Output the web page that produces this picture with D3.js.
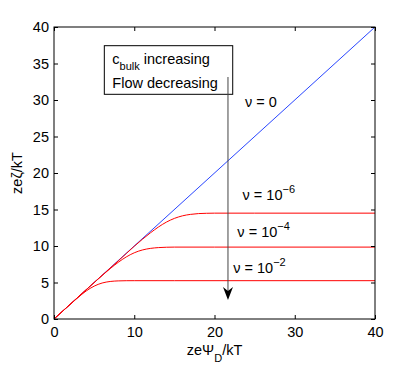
<!DOCTYPE html>
<html>
<head>
<meta charset="utf-8">
<script src="https://cdn.jsdelivr.net/npm/d3@7"></script>
<style>
  html, body { margin: 0; padding: 0; background: #fff; }
  svg { display: block; font-family: "Liberation Sans", Arial, Helvetica, sans-serif; }
</style>
</head>
<body>
<svg id="chart" width="415" height="366"></svg>
<script>
// ---- data ----
const xTicks = [0, 10, 20, 30, 40];
const yTicks = [0, 5, 10, 15, 20, 25, 30, 35, 40];

// nu = 0 : straight line
const nu0X = [0, 40];
const nu0Y = [0, 40];

// nu = 1e-6
const nu6X = [0, 4, 8, 10, 12, 13, 14, 15, 16, 17, 18, 19, 20, 25, 40];
const nu6Y = [0, 4, 7.95, 9.96, 11.79, 12.59, 13.27, 13.78, 14.13, 14.33, 14.44, 14.48, 14.5, 14.5, 14.5];

// nu = 1e-4
const nu4X = [0, 4, 6, 7, 8, 9, 10, 11, 12, 13, 14, 15, 20, 40];
const nu4Y = [0, 4.0, 5.97, 6.9, 7.76, 8.5, 9.07, 9.45, 9.67, 9.78, 9.83, 9.85, 9.85, 9.85];

// nu = 1e-2
const nu2X = [0, 1, 2, 3, 4, 5, 6, 7, 8, 9, 10, 15, 40];
const nu2Y = [0, 1.0, 1.99, 2.95, 3.83, 4.5, 4.93, 5.14, 5.22, 5.245, 5.25, 5.25, 5.25];

// ---- layout ----
const W = 415, H = 366;
const m = { left: 54, top: 27, right: 40, bottom: 47 };
const pw = W - m.left - m.right;   // 321
const ph = H - m.top - m.bottom;   // 292

const svg = d3.select("#chart");
const g = svg.append("g").attr("transform", `translate(${m.left},${m.top})`);

const x = d3.scaleLinear().domain([0, 40]).range([0, pw]);
const y = d3.scaleLinear().domain([0, 40]).range([ph, 0]);

const FS = 14.5;

// ---- lines ----
const line = d3.line().x(d => x(d[0])).y(d => y(d[1])).curve(d3.curveMonotoneX);
const zip = (a, b) => a.map((v, i) => [v, b[i]]);

g.append("path").datum(zip(nu0X, nu0Y)).attr("d", line)
  .attr("fill", "none").attr("stroke", "#1030ff").attr("stroke-width", 0.9);

[[nu6X, nu6Y], [nu4X, nu4Y], [nu2X, nu2Y]].forEach(([xs, ys]) => {
  g.append("path").datum(zip(xs, ys)).attr("d", line)
    .attr("fill", "none").attr("stroke", "#ff0000").attr("stroke-width", 1);
});

// ---- frame / axes ----
g.append("rect").attr("x", 0).attr("y", 0).attr("width", pw).attr("height", ph)
  .attr("fill", "none").attr("stroke", "#000").attr("stroke-width", 1);

function styleAxis(sel) {
  sel.select(".domain").remove();
  sel.selectAll(".tick line").attr("stroke", "#000");
  sel.selectAll(".tick text").attr("font-size", FS).attr("fill", "#000")
     .attr("font-family", '"Liberation Sans", Arial, sans-serif');
}

g.append("g").attr("transform", `translate(0,${ph})`)
  .call(d3.axisBottom(x).tickValues(xTicks).tickSize(-4).tickPadding(8))
  .call(styleAxis);
g.append("g")
  .call(d3.axisTop(x).tickValues(xTicks).tickSize(-4).tickFormat(""))
  .call(styleAxis);
g.append("g")
  .call(d3.axisLeft(y).tickValues(yTicks).tickSize(-4).tickPadding(5))
  .call(styleAxis);
g.append("g").attr("transform", `translate(${pw},0)`)
  .call(d3.axisRight(y).tickValues(yTicks).tickSize(-4).tickFormat(""))
  .call(styleAxis);

// ---- axis labels ----
const xl = svg.append("text").attr("x", m.left + pw / 2).attr("y", 355)
  .attr("text-anchor", "middle").attr("font-size", FS);
xl.append("tspan").text("zeΨ");
xl.append("tspan").attr("dy", 7).attr("font-size", 11).text("D");
xl.append("tspan").attr("dy", -7).text("/kT");

svg.append("text")
  .attr("transform", `translate(22,${m.top + ph / 2}) rotate(-90)`)
  .attr("text-anchor", "middle").attr("font-size", FS)
  .text("zeζ/kT");

// ---- annotation box ----
const boxX0 = 6.27, boxX1 = 22.27, boxYTop = 37.44, boxYBot = 30.78;
g.append("rect")
  .attr("x", x(boxX0)).attr("y", y(boxYTop))
  .attr("width", x(boxX1) - x(boxX0)).attr("height", y(boxYBot) - y(boxYTop))
  .attr("fill", "#fff").attr("stroke", "#000").attr("stroke-width", 1);

const t1 = g.append("text").attr("x", x(boxX0) + 8).attr("y", y(boxYTop) + 18.5)
  .attr("font-size", FS);
t1.append("tspan").text("c");
t1.append("tspan").attr("dy", 6).attr("font-size", 11).text("bulk");
t1.append("tspan").attr("dy", -6).text(" increasing");

g.append("text").attr("x", x(boxX0) + 8).attr("y", y(boxYTop) + 42)
  .attr("font-size", FS).text("Flow decreasing");

// ---- arrow ----
const arrX = 21.68, arrY0 = 33.15, arrY1 = 2.6;
g.append("line")
  .attr("x1", x(arrX)).attr("x2", x(arrX))
  .attr("y1", y(arrY0)).attr("y2", y(arrY1) - 8)
  .attr("stroke", "#444").attr("stroke-width", 1);
const tipX = x(arrX), tipY = y(arrY1);
g.append("path")
  .attr("d", `M${tipX},${tipY} L${tipX - 5},${tipY - 13} L${tipX},${tipY - 9} L${tipX + 5},${tipY - 13} Z`)
  .attr("fill", "#000");

// ---- nu labels ----
const nuLabels = [
  { x: 23.8, y: 29.1, exp: null },
  { x: 23.5, y: 16.3, exp: "−6" },
  { x: 22.85, y: 11.27, exp: "−4" },
  { x: 22.34, y: 6.26, exp: "−2" }
];
nuLabels.forEach(d => {
  const t = g.append("text").attr("x", x(d.x)).attr("y", y(d.y)).attr("font-size", FS);
  if (d.exp === null) {
    t.text("ν = 0");
  } else {
    t.append("tspan").text("ν = 10");
    t.append("tspan").attr("dy", -7).attr("font-size", 11).text(d.exp);
  }
});
</script>
</body>
</html>
